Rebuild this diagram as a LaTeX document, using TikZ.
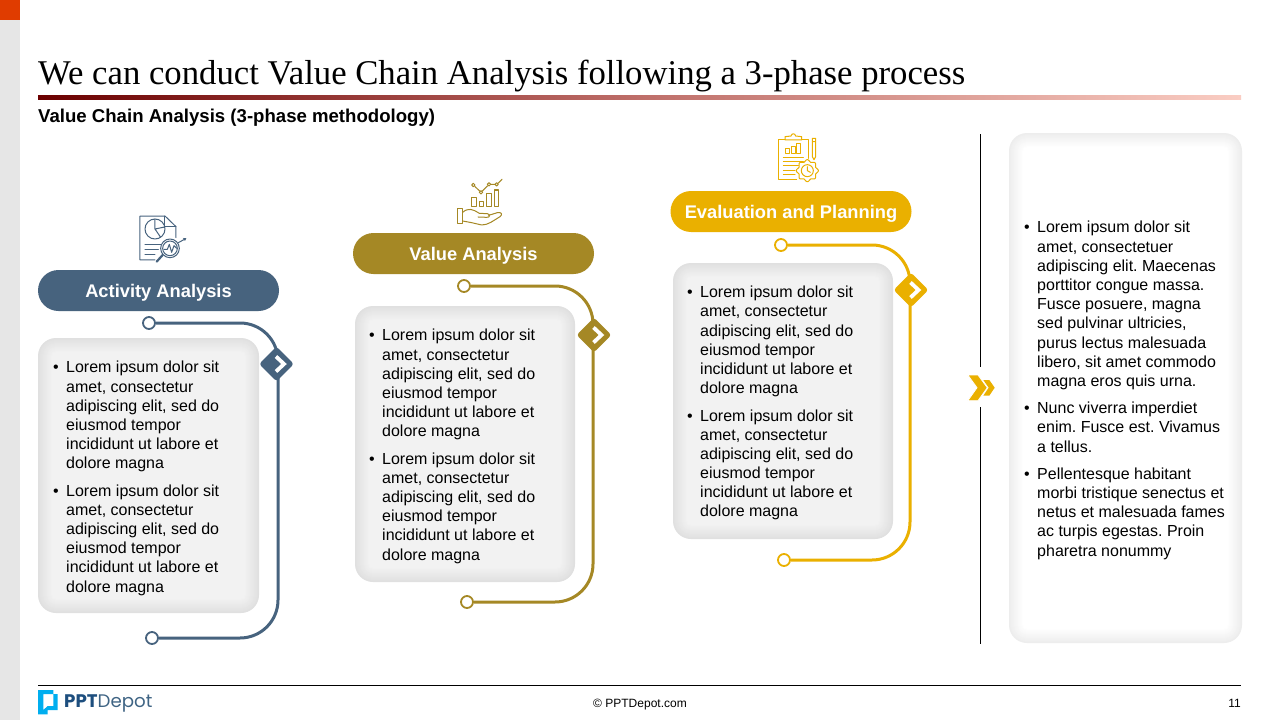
\documentclass[tikz,border=0pt]{standalone}
\usepackage{fontspec}
\setmainfont{Liberation Sans}
\newfontfamily\titlefont{Liberation Serif}
\newfontfamily\logofont{Poppins}
\usetikzlibrary{shapes.geometric}
\definecolor{cblue}{HTML}{47637E}
\definecolor{cgold}{HTML}{A58825}
\definecolor{cyel}{HTML}{EAB000}
\definecolor{edgegray}{HTML}{E0E0E0}
\definecolor{boxgray}{HTML}{F2F2F2}
\definecolor{sidebar}{HTML}{E6E6E6}
\definecolor{panelEdge}{HTML}{EDEDED}
\definecolor{corange}{HTML}{E03C00}
\definecolor{ccyan}{HTML}{00AEEF}
\definecolor{ruleL}{HTML}{6B0000}
\definecolor{ruleM}{HTML}{BE6E69}
\definecolor{ruleR}{HTML}{FACDC3}
\newcommand{\glowbox}[6]{%
  \foreach \i [evaluate=\i as \p using \i*100/14] in {0,...,14}{
    \fill[#6!\p!#5,rounded corners={max(18-\i,4)}] ({#1+\i},{#2+\i}) rectangle ({#3-\i},{#4-\i});
  }}
\newcommand{\bul}{\leavevmode\llap{•\hskip7.5pt}}
\tikzset{
  x=1pt,y=-1pt,
  pill/.style={rounded corners=20.5,minimum width=241,minimum height=41,inner sep=0,text=white,
    text height=13.5,text depth=.5,font=\fontsize{18.3}{22}\selectfont\bfseries},
  body/.style={anchor=north west,inner sep=0,align=left,text=black,font=\frenchspacing\fontsize{16}{19.2}\selectfont},
  endring/.style={circle,draw,fill=white,line width=1.8,minimum size=12,inner sep=0},
  conn/.style={line width=3,rounded corners=38},
  badge/.style={diamond,minimum width=35,minimum height=35,inner sep=0,rounded corners=3},
  chev/.style={white,line width=3.8,line join=miter},
  icon/.style={line width=1,line join=round,line cap=round},
}
\begin{document}
\begin{tikzpicture}
\useasboundingbox (0,0) rectangle (1280,720);
\fill[white] (0,0) rectangle (1280,720);
\fill[sidebar] (0,0) rectangle (20,720);
\fill[corange] (0,0) rectangle (20,20);
% title
\node[anchor=base west,inner sep=0,font=\fontsize{34.7}{40}\selectfont\titlefont] (title) at (38,84) {We can conduct Value Chain Analysis following a 3-phase process};
\shade[left color=ruleL,right color=ruleR,middle color=ruleM] (38,95.5) rectangle (1241,99);
\node[anchor=base west,inner sep=0,font=\fontsize{18.6}{22}\selectfont\bfseries] (sub) at (38,122) {Value Chain Analysis (3-phase methodology)};

% boxes
\glowbox{38}{338}{259}{613}{edgegray}{boxgray}
\glowbox{355}{306}{575}{582}{edgegray}{boxgray}
\glowbox{673}{263}{893}{539}{edgegray}{boxgray}
\glowbox{1009}{133}{1242}{643}{panelEdge}{white}

% phase 1
\node[pill,fill=cblue] (p1) at (158.5,290.5) {Activity Analysis};
\node[endring,draw=cblue] (a1) at (149,323) {};
\node[endring,draw=cblue] (a2) at (152,638) {};
\coordinate (ar) at (278,480);
\draw[conn,cblue] (a1.east) -| (ar) |- (a2.east);
\node[badge,fill=cblue] (ad) at (276.5,364) {};
\draw[chev] ([shift={(-0.5,-7.5)}]ad.center) -- ++(8,7.5) -- ++(-8,7.5);
\node[body] (at) at (66,361) {\bul Lorem ipsum dolor sit\\amet, consectetur\\adipiscing elit, sed do\\eiusmod tempor\\incididunt ut labore et\\dolore magna\\[8pt]\bul Lorem ipsum dolor sit\\amet, consectetur\\adipiscing elit, sed do\\eiusmod tempor\\incididunt ut labore et\\dolore magna};

% phase 2
\node[pill,fill=cgold] (p2) at (473.5,253.5) {Value Analysis};
\node[endring,draw=cgold] (b1) at (464,286) {};
\node[endring,draw=cgold] (b2) at (467,602) {};
\coordinate (br) at (593,450);
\draw[conn,cgold] (b1.east) -| (br) |- (b2.east);
\node[badge,fill=cgold] (bd) at (594,335) {};
\draw[chev] ([shift={(-0.5,-7.5)}]bd.center) -- ++(8,7.5) -- ++(-8,7.5);
\node[body] (bt) at (382,329) {\bul Lorem ipsum dolor sit\\amet, consectetur\\adipiscing elit, sed do\\eiusmod tempor\\incididunt ut labore et\\dolore magna\\[8pt]\bul Lorem ipsum dolor sit\\amet, consectetur\\adipiscing elit, sed do\\eiusmod tempor\\incididunt ut labore et\\dolore magna};

% phase 3
\node[pill,fill=cyel] (p3) at (791,211.5) {Evaluation and Planning};
\node[endring,draw=cyel] (c1) at (781,245) {};
\node[endring,draw=cyel] (c2) at (784,560) {};
\coordinate (cr) at (910,400);
\draw[conn,cyel] (c1.east) -| (cr) |- (c2.east);
\node[badge,fill=cyel] (cd) at (911,290) {};
\draw[chev] ([shift={(-0.5,-7.5)}]cd.center) -- ++(8,7.5) -- ++(-8,7.5);
\node[body] (ct) at (700,286) {\bul Lorem ipsum dolor sit\\amet, consectetur\\adipiscing elit, sed do\\eiusmod tempor\\incididunt ut labore et\\dolore magna\\[8pt]\bul Lorem ipsum dolor sit\\amet, consectetur\\adipiscing elit, sed do\\eiusmod tempor\\incididunt ut labore et\\dolore magna};

% right panel
\node[body] (rt) at (1037,221) {\bul Lorem ipsum dolor sit\\amet, consectetuer\\adipiscing elit. Maecenas\\porttitor congue massa.\\Fusce posuere, magna\\sed pulvinar ultricies,\\purus lectus malesuada\\libero, sit amet commodo\\magna eros quis urna.\\[8pt]\bul Nunc viverra imperdiet\\enim. Fusce est. Vivamus\\a tellus.\\[8pt]\bul Pellentesque habitant\\morbi tristique senectus et\\netus et malesuada fames\\ac turpis egestas. Proin\\pharetra nonummy};

% divider
\draw[black,line width=1] (980.5,134) -- (980.5,367);
\draw[black,line width=1] (980.5,407) -- (980.5,644);
\fill[cyel] (983.3,380) -- (989.3,380) -- (994.7,387.7) -- (989.3,395.7) -- (983.3,395.7) -- (988.7,387.7) -- cycle;
\filldraw[fill=cyel,draw=white,line width=.8] (967.8,375) -- (978,375) -- (987.3,387.7) -- (978,400.7) -- (967.8,400.7) -- (977,387.7) -- cycle;

% icon 1
\begin{scope}[shift={(120,205)},x=.3333pt,y=-.3333pt,icon,cblue]
\draw (105,165) -- (60,165) -- (60,33) -- (135,33) -- (168,65) -- (168,98);
\draw (135,33) -- (135,65) -- (168,65);
\draw (105,72) circle[radius=30];
\draw (105,42) -- (105,72) -- (134,66) (105,72) -- (122,97);
\draw (75,118) -- (125,118) (75,133) -- (115,133) (75,148) -- (105,148);
\filldraw[fill=white] (150,130) circle[radius=28];
\draw (150,130) circle[radius=22];
\draw (132,133) -- (142,133) -- (148,118) -- (155,142) -- (162,122) -- (170,130);
\draw[line width=2.2] (128,150) -- (110,170);
\draw (175,113) -- (197,101);
\fill (199,100) -- (189,99) -- (195,108) -- cycle;
\end{scope}

% icon 2
\begin{scope}[shift={(440,170)},x=.3333pt,y=-.3333pt,icon,cgold]
\draw (100,45) circle[radius=5] (123,67) circle[radius=5] (147,43) circle[radius=5] (170,43) circle[radius=5];
\draw (104,49) -- (119,63) (127,63) -- (143,47) (152,43) -- (165,43) (174,40) -- (186,28);
\draw (95,83) rectangle (108,110) (117,95) rectangle (130,110) (140,72) rectangle (153,110) (163,60) rectangle (177,110);
\draw (53,115) rectangle (68,160);
\draw (68,127) .. controls (85,112) and (100,118) .. (118,130) -- (142,131) .. controls (152,133) and (150,143) .. (140,142) -- (114,141);
\draw (146,136) -- (172,128) .. controls (183,125) and (190,133) .. (180,140) .. controls (160,152) and (145,165) .. (125,165) -- (95,158) -- (68,153);
\end{scope}

% icon 3
\begin{scope}[shift={(765,125)},x=.3333pt,y=-.3333pt,icon,cyel]
\draw (60,45) -- (40,45) -- (40,165) -- (95,165) (110,45) -- (130,45) -- (130,100);
\draw (60,45) -- (60,35) -- (78,33) .. controls (80,24) and (90,24) .. (92,33) -- (110,35) -- (110,45) -- cycle;
\draw (60,70) rectangle (72,85) (78,65) rectangle (90,85) (95,57) rectangle (107,85);
\draw (55,97) -- (115,97) (55,110) -- (115,110) (55,123) -- (100,123) (55,136) -- (90,136) (55,150) -- (90,150);
\draw (142,40) -- (152,40) -- (152,95) -- (147,104) -- (142,95) -- cycle (142,50) -- (152,50);
\filldraw[fill=white] plot[samples=145,domain=0:360] ({127+(30+3*cos(8*\x))*cos(\x)},{137+(30+3*cos(8*\x))*sin(\x)}) -- cycle;
\draw (127,137) circle[radius=18];
\draw (127,125) -- (127,137) -- (136,142);
\end{scope}

% footer
\draw[black,line width=1] (38,685.5) -- (1241,685.5);
\fill[ccyan,even odd rule] (38,690) -- (53.3,690) -- (53.3,694) -- (57.7,694) -- (57.7,710) -- (47.7,710) -- (47.7,714.3) -- (38,714.3) -- cycle
  (43.3,694) -- (43.3,710) -- (47.7,706) -- (53.3,706) -- (53.3,694) -- cycle;
\node[anchor=base west,inner sep=0,font=\fontsize{18.2}{20}\selectfont\logofont] (logo) at (64,707) {\textcolor[HTML]{1D4E7E}{\bfseries PPT}\textcolor[HTML]{3F6484}{Depot}};
\node[anchor=base,inner sep=0,font=\fontsize{12}{14}\selectfont] (copy) at (640,707) {© PPTDepot.com};
\node[anchor=base east,inner sep=0,font=\fontsize{12}{14}\selectfont] (num) at (1241,707) {11};
\end{tikzpicture}
\end{document}
